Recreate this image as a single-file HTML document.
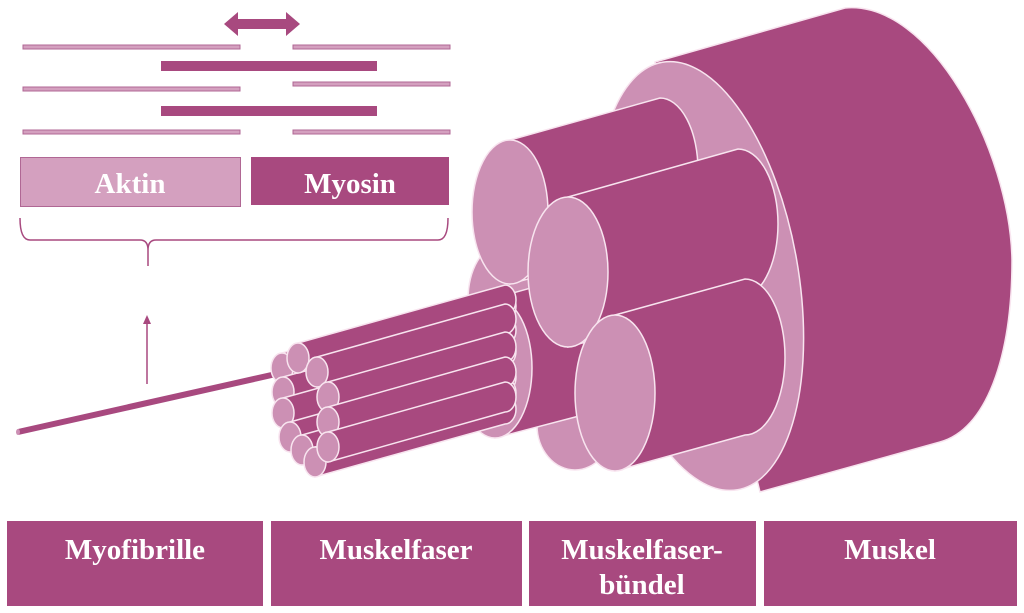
<!DOCTYPE html>
<html><head><meta charset="utf-8"><style>
body{margin:0;background:#fff;}
svg{display:block}
text{font-family:"Liberation Serif",serif;font-weight:bold;fill:#fff}
</style></head><body>
<svg width="1024" height="613" viewBox="0 0 1024 613" xmlns="http://www.w3.org/2000/svg">
<defs><style>.d{fill:#a8497f;stroke:#f8e4ef;stroke-width:1.5}.l{fill:#cc90b4;stroke:#f8e4ef;stroke-width:1.5}</style></defs>
<polygon points="224,24 238,12 238,19 286,19 286,12 300,24 286,36 286,29 238,29 238,36" fill="#a8497f"/>
<g fill="#d4a0bf" stroke="#b06794" stroke-width="1">
<rect x="23" y="45" width="217" height="4"/><rect x="293" y="45" width="157" height="4"/>
<rect x="23" y="87" width="217" height="4"/><rect x="293" y="82" width="157" height="4"/>
<rect x="23" y="130" width="217" height="4"/><rect x="293" y="130" width="157" height="4"/>
</g>
<rect x="161" y="61" width="216" height="10" fill="#a8497f"/>
<rect x="161" y="106" width="216" height="10" fill="#a8497f"/>
<rect x="20.5" y="157.5" width="220" height="49" fill="#d4a0bf" stroke="#b06794"/>
<rect x="251" y="157" width="198" height="48" fill="#a8497f"/>
<text x="130" y="193" font-size="29" text-anchor="middle">Aktin</text>
<text x="350" y="193" font-size="29" text-anchor="middle">Myosin</text>
<path d="M20,218 Q20,240 30,240 L140,240 Q148,240 148,250 L148,266 M148,250 Q148,240 156,240 L438,240 Q448,240 448,218" fill="none" stroke="#a8497f" stroke-width="1.5"/>
<line x1="147" y1="384" x2="147" y2="320" stroke="#a8497f" stroke-width="1.5"/>
<polygon points="147,315 143,324 151,324" fill="#a8497f"/>
<path class="d" d="M655,62 L845,8 C930,0 1010,150 1012,260 C1012,360 985,430 940,442 L760,492 Z"/>
<ellipse class="l" cx="700" cy="276" rx="98" ry="217" transform="rotate(-10 700 276)"/>
<ellipse class="l" cx="500" cy="300" rx="32" ry="55"/>
<ellipse class="l" cx="575" cy="425" rx="38" ry="45"/>
<path class="d" d="M510,140 L660,98 A38 72 0 0 1 660,242 L510,284 Z"/>
<ellipse class="l" cx="510" cy="212" rx="38" ry="72"/>
<path class="d" d="M495,298 L620,263 L640,400 L495,438 Z"/>
<ellipse class="l" cx="495" cy="368" rx="37" ry="70"/>
<path class="d" d="M568,197 L738,149 A40 75 0 0 1 738,299 L568,347 Z"/>
<ellipse class="l" cx="568" cy="272" rx="40" ry="75"/>
<path class="d" d="M615,315 L745,279 A40 78 0 0 1 745,435 L615,471 Z"/>
<ellipse class="l" cx="615" cy="393" rx="40" ry="78"/>
<line x1="18" y1="432" x2="285" y2="372" stroke="#a8497f" stroke-width="6"/>
<ellipse cx="18" cy="432" rx="2" ry="3" fill="#cc90b4"/>
<g>
<path class="d" d="M282,353 L505,291 A11 15 0 0 1 505,321 L282,383Z"/><ellipse class="l" cx="282" cy="368" rx="11" ry="15"/>
<path class="d" d="M283,377 L505,315 A11 15 0 0 1 505,345 L283,407Z"/><ellipse class="l" cx="283" cy="392" rx="11" ry="15"/>
<path class="d" d="M283,398 L505,336 A11 15 0 0 1 505,366 L283,428Z"/><ellipse class="l" cx="283" cy="413" rx="11" ry="15"/>
<path class="d" d="M290,422 L505,362 A11 15 0 0 1 505,392 L290,452Z"/><ellipse class="l" cx="290" cy="437" rx="11" ry="15"/>
<path class="d" d="M298,343 L505,285 A11 15 0 0 1 505,315 L298,373Z"/><ellipse class="l" cx="298" cy="358" rx="11" ry="15"/>
<path class="d" d="M302,435 L505,378 A11 15 0 0 1 505,408 L302,465Z"/><ellipse class="l" cx="302" cy="450" rx="11" ry="15"/>
<path class="d" d="M315,447 L505,394 A11 15 0 0 1 505,424 L315,477Z"/><ellipse class="l" cx="315" cy="462" rx="11" ry="15"/>
<path class="d" d="M317,357 L505,304 A11 15 0 0 1 505,334 L317,387Z"/><ellipse class="l" cx="317" cy="372" rx="11" ry="15"/>
<path class="d" d="M328,382 L505,332 A11 15 0 0 1 505,362 L328,412Z"/><ellipse class="l" cx="328" cy="397" rx="11" ry="15"/>
<path class="d" d="M328,407 L505,357 A11 15 0 0 1 505,387 L328,437Z"/><ellipse class="l" cx="328" cy="422" rx="11" ry="15"/>
<path class="d" d="M328,432 L505,382 A11 15 0 0 1 505,412 L328,462Z"/><ellipse class="l" cx="328" cy="447" rx="11" ry="15"/>
</g>
<g fill="#a8497f">
<rect x="7" y="521" width="256" height="85"/>
<rect x="271" y="521" width="251" height="85"/>
<rect x="529" y="521" width="227" height="85"/>
<rect x="764" y="521" width="253" height="85"/>
</g>
<g font-size="29" text-anchor="middle">
<text x="135" y="559">Myofibrille</text>
<text x="396" y="559">Muskelfaser</text>
<text x="642" y="559">Muskelfaser-</text>
<text x="642" y="594">bündel</text>
<text x="890" y="559">Muskel</text>
</g>
</svg>
</body></html>
